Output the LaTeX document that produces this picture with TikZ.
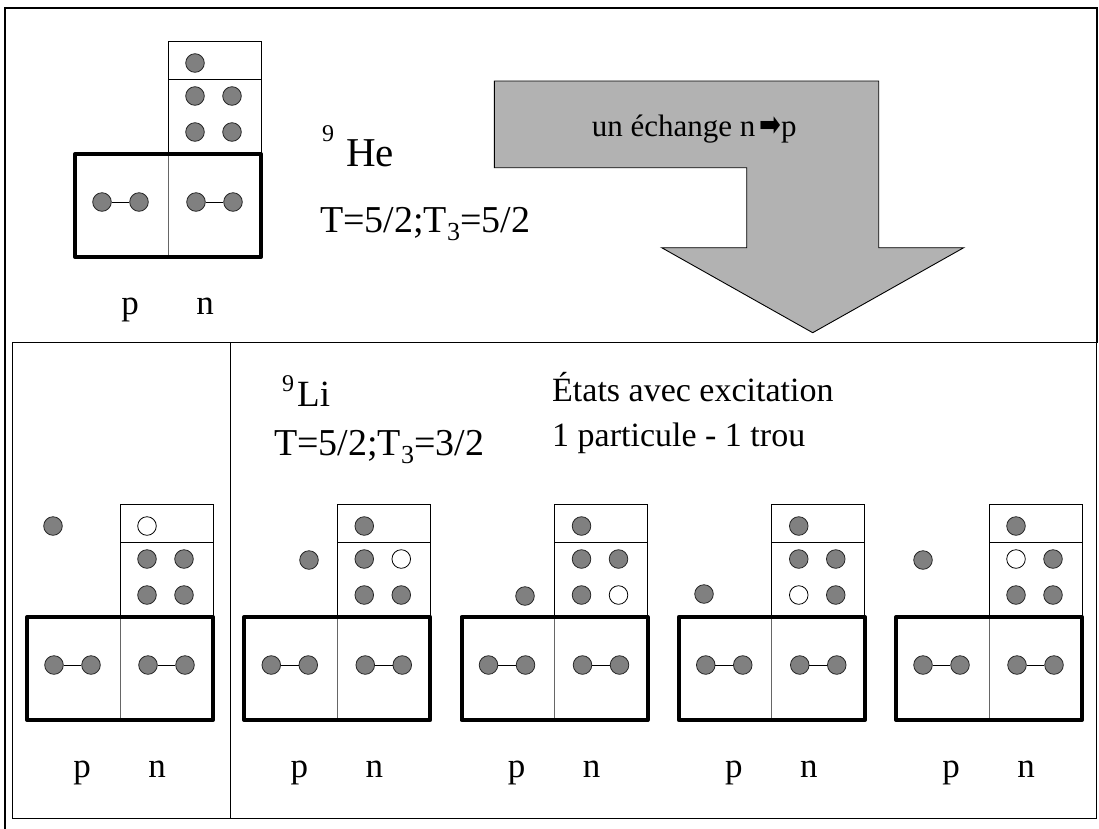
\documentclass[tikz,border=0pt]{standalone}
\usepackage{fontspec}
\setmainfont{Liberation Serif}
\newfontfamily\dejavu{DejaVu Sans}
\usepackage{graphicx}

\tikzset{
  fe/.style={circle, draw=black!85, line width=0.8pt, fill=black!50, minimum size=18.6pt, inner sep=0pt},
  ho/.style={circle, draw=black, line width=0.8pt, fill=white, minimum size=18.6pt, inner sep=0pt},
  thickbox/.style={draw=black, line width=4pt, line join=round},
  thinbox/.style={draw=black, line width=0.8pt},
  divline/.style={draw=black!60, line width=1pt},
  bond/.style={draw=black, line width=0.8pt},
  lbl/.style={anchor=base, inner sep=0pt, font=\fontsize{35}{38}\selectfont},
  txt/.style={anchor=base west, inner sep=0pt},
  frameline/.style={draw=black, line width=0.9pt},
  bigarrow/.style={draw=black, line width=0.9pt, fill=black!30, line join=miter},
}

% #1 prefix, #2 origin (x0,ytop of thick box), #3..#7 styles of top, a, b, c, d circles
\newcommand\nucl[7]{%
\begin{scope}[shift={(#2)}]
  \draw[thinbox] (94,-112) rectangle (187,-74);
  \draw[thinbox] (94,-74) rectangle (187,0);
  \node[#3] (#1t) at (121,-90) {};
  \node[#4] (#1a) at (121,-57) {};
  \node[#5] (#1b) at (158,-57) {};
  \node[#6] (#1c) at (121,-21) {};
  \node[#7] (#1d) at (158,-21) {};
  \draw[thickbox] (1,1) rectangle (187,104);
  \draw[divline] (94,3) -- (94,102);
  \node[fe] (#1p1) at (28,49) {};
  \node[fe] (#1p2) at (65,49) {};
  \node[fe] (#1n1) at (122,49) {};
  \node[fe] (#1n2) at (159,49) {};
  \draw[bond] (#1p1) -- (#1p2);
  \draw[bond] (#1n1) -- (#1n2);
  \node[lbl] (#1lp) at (56,161) {p};
  \node[lbl] (#1ln) at (131,161) {n};
\end{scope}}

\begin{document}
\begin{tikzpicture}[x=1pt,y=-1pt]
\useasboundingbox (0,0) rectangle (1099,828);

% outer frame
\draw[draw=black, line width=2pt] (5,830) -- (5,8) -- (1097,8) -- (1097,343);
% lower panels
\draw[frameline] (12.7,342.7) rectangle (1096.5,818.5);
\draw[frameline] (230,342.7) -- (230,818.5);

% big arrow
\draw[bigarrow] (494.3,81) -- (878.7,81) -- (878.7,247.7) -- (963.7,247.7)
   -- (812.7,332.7) -- (661.7,247.7) -- (746.7,247.7) -- (746.7,167.7)
   -- (494.3,167.7) -- cycle;
\node[txt, font=\fontsize{31}{34}\selectfont] (exch) at (591.7,136)
   {un échange n\kern4pt\raisebox{0pt}{\scalebox{1}[1.35]{\dejavu\fontsize{26}{26}\selectfont ➡}}\kern0pt p};

% 9He
\nucl{he}{74,153}{fe}{fe}{fe}{fe}{fe}
\node[txt, font=\fontsize{41}{41}\selectfont] (helabel) at (322,166)
   {\raisebox{25pt}{\fontsize{24}{24}\selectfont 9}\kern12pt He};
\node[txt, font=\fontsize{38}{38}\selectfont] (heiso) at (320,232.7)
   {T=5/2;T\raisebox{-8pt}{\fontsize{26}{26}\selectfont 3}=5/2};

% 9Li states
\nucl{sa}{26,616}{ho}{fe}{fe}{fe}{fe}
\node[fe] (sao) at (53,526) {};
\nucl{sb}{243.25,616}{fe}{fe}{ho}{fe}{fe}
\node[fe] (sbo) at (309,560) {};
\nucl{sc}{460.5,616}{fe}{fe}{fe}{fe}{ho}
\node[fe] (sco) at (525,596) {};
\nucl{sd}{677.75,616}{fe}{fe}{fe}{ho}{fe}
\node[fe] (sdo) at (704,594) {};
\nucl{se}{895,616}{fe}{ho}{fe}{fe}{fe}
\node[fe] (seo) at (923,560) {};

\node[txt, font=\fontsize{37}{37}\selectfont] (lilabel) at (282,406.7)
   {\raisebox{15pt}{\fontsize{24}{24}\selectfont 9}\kern3pt Li};
\node[txt, font=\fontsize{38}{38}\selectfont] (liiso) at (274,455.7)
   {T=5/2;T\raisebox{-8pt}{\fontsize{26}{26}\selectfont 3}=3/2};

\node[txt, font=\fontsize{34}{38}\selectfont] (etats1) at (552,401.7) {États avec excitation};
\node[txt, font=\fontsize{34}{38}\selectfont] (etats2) at (552,446) {1 particule - 1 trou};

\end{tikzpicture}
\end{document}
